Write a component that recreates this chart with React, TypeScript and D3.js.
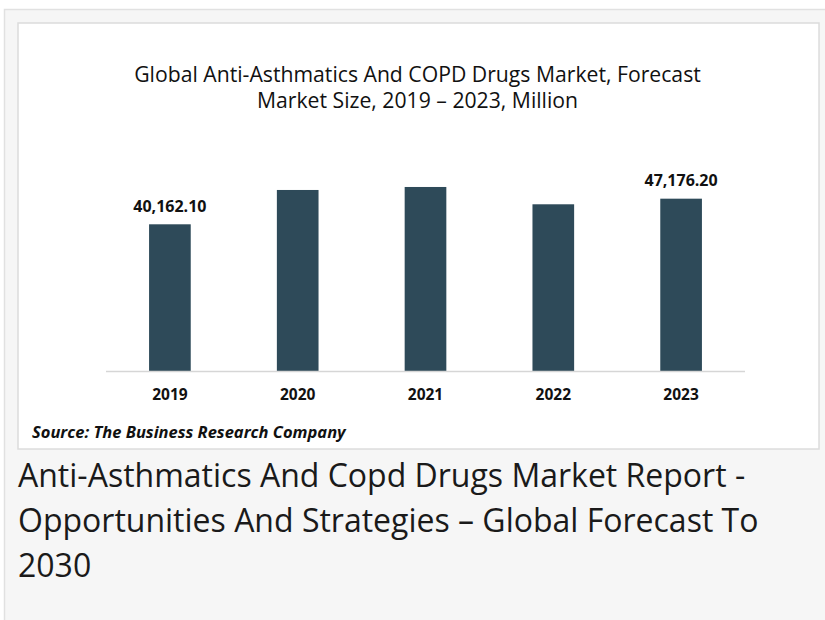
import React from "react";
import * as d3 from "d3";

const years = ["2019", "2020", "2021", "2022", "2023"];
const values = [40162.1, 49560, 50380, 45640, 47176.2];
const valueLabels = ["40,162.10", "", "", "", "47,176.20"];
const titleLines = [
  "Global Anti-Asthmatics And COPD Drugs Market, Forecast",
  "Market Size, 2019 – 2023, Million",
];
const sourceText = "Source: The Business Research Company";
const captionLines = [
  "Anti-Asthmatics And Copd Drugs Market Report -",
  "Opportunities And Strategies – Global Forecast To",
  "2030",
];

const W = 825;
const H = 620;
const FONT = "'Open Sans', 'Noto Sans', sans-serif";

export default function App() {
  const x = d3
    .scaleBand<string>()
    .domain(years)
    .range([106, 745])
    .paddingInner(0.674)
    .paddingOuter(0.337);
  const y = d3.scaleLinear().domain([0, 55000]).range([371, 170.1]);

  return (
    <div style={{ position: "absolute", left: 0, top: 0, width: W, height: H, overflow: "hidden" }}>
      <svg width={W} height={H} style={{ display: "block", background: "#ffffff" }}>
        {/* outer panel */}
        <rect x={4.5} y={9.5} width={W} height={H} fill="#f6f6f6" stroke="#e1e1e1" strokeWidth={1.5} />
        {/* inner chart box */}
        <rect x={18} y={23} width={801} height={426} fill="#ffffff" stroke="#dcdcdc" strokeWidth={1.5} />

        {/* title */}
        {titleLines.map((t, i) => (
          <text
            key={i}
            x={417.5}
            y={81.5 + i * 26.8}
            textAnchor="middle"
            fontFamily={FONT}
            fontSize={21.2}
            fill="#111"
          >
            {t}
          </text>
        ))}

        {/* bars */}
        {years.map((yr, i) => (
          <rect
            key={yr}
            x={x(yr)}
            y={y(values[i])}
            width={x.bandwidth()}
            height={y(0) - y(values[i])}
            fill="#2e4a59"
          />
        ))}

        {/* value labels */}
        {years.map((yr, i) =>
          valueLabels[i] ? (
            <text
              key={"v" + yr}
              x={(x(yr) as number) + x.bandwidth() / 2}
              y={y(values[i]) - 12.5}
              textAnchor="middle"
              fontFamily={FONT}
              fontWeight={700}
              fontSize={16}
              fill="#111"
            >
              {valueLabels[i]}
            </text>
          ) : null
        )}

        {/* axis line */}
        <line x1={106} x2={745} y1={y(0) + 0.5} y2={y(0) + 0.5} stroke="#d6d6d6" strokeWidth={1.5} />

        {/* year labels */}
        {years.map((yr) => (
          <text
            key={"t" + yr}
            x={(x(yr) as number) + x.bandwidth() / 2}
            y={399.5}
            textAnchor="middle"
            fontFamily={FONT}
            fontWeight={700}
            fontSize={15.5}
            fill="#111"
          >
            {yr}
          </text>
        ))}

        {/* source */}
        <text
          x={32}
          y={437.5}
          fontFamily={FONT}
          fontWeight={700}
          fontStyle="italic"
          fontSize={16.5}
          fill="#111"
        >
          {sourceText}
        </text>

        {/* caption */}
        {captionLines.map((t, i) => (
          <text key={"c" + i} x={18} y={487 + i * 45} fontFamily={FONT} fontSize={32} fill="#1a1a1a">
            {t}
          </text>
        ))}
      </svg>
    </div>
  );
}
